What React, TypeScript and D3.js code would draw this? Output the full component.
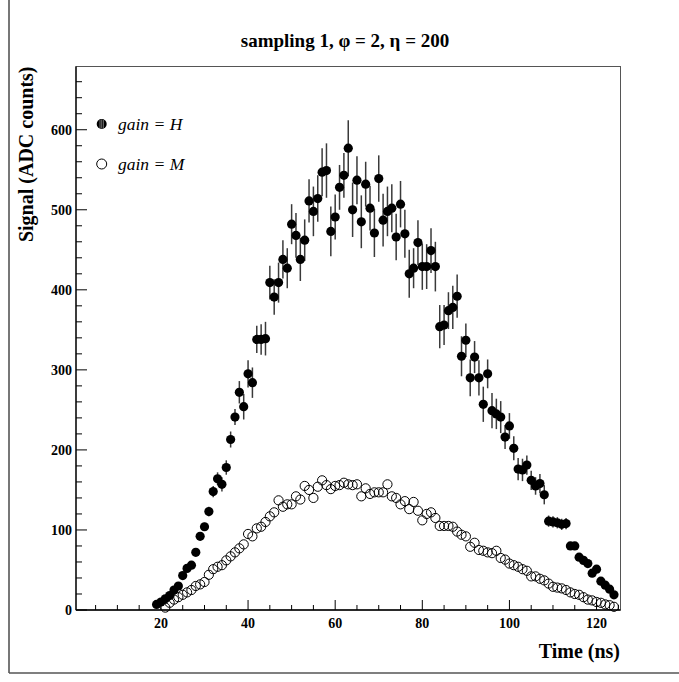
import React from 'react';
import * as d3 from 'd3';

// gain = H : first bin at 19 ns, one value per ns
const gainHStart = 19;
const gainHValues = [
  7, 10, 14, 18, 25, 30, 43, 52, 56, 72,
  92, 104, 123, 148, 164, 157, 178, 213, 241, 272,
  254, 295, 284, 338, 338, 339, 409, 391, 409, 438,
  427, 482, 468, 438, 462, 511, 498, 514, 547, 549,
  473, 491, 528, 543, 577, 500, 537, 485, 532, 502,
  471, 539, 487, 498, 502, 466, 507, 470, 420, 427,
  459, 429, 429, 449, 429, 354, 356, 374, 378, 392,
  317, 337, 290, 316, 290, 257, 295, 249, 245, 241,
  216, 230, 202, 176, 175, 181, 162, 155, 158, 144,
  111, 110, 109, 107, 108, 80, 80, 66, 62, 58,
  46, 51, 36, 31, 26, 19,
];
const gainHErrors = [
  3, 3, 3, 3, 3, 3, 4, 4, 4, 4,
  5, 5, 6, 7, 8, 9, 9, 10, 10, 14,
  16, 17, 19, 17, 19, 21, 21, 22, 25, 24,
  25, 25, 28, 27, 26, 27, 31, 29, 30, 34,
  31, 28, 28, 28, 35, 34, 30, 33, 28, 28,
  30, 29, 33, 31, 30, 29, 29, 30, 30, 25,
  28, 29, 28, 28, 31, 27, 25, 23, 27, 27,
  25, 21, 23, 20, 22, 22, 18, 22, 19, 20,
  15, 16, 15, 14, 14, 12, 12, 11, 12, 12,
  7, 7, 7, 7, 7, 5, 5, 4, 4, 4,
  4, 4, 4, 4, 4, 4,
];

// gain = M : first bin at 21 ns
const gainMStart = 21;
const gainMValues = [
  3, 9, 13, 16, 19, 22, 25, 30, 32, 35,
  44, 51, 54, 56, 62, 67, 72, 77, 82, 95,
  92, 102, 104, 110, 117, 122, 137, 129, 132, 132,
  142, 138, 155, 150, 140, 154, 162, 156, 151, 155,
  156, 159, 157, 156, 157, 142, 152, 145, 147, 147,
  147, 157, 142, 140, 132, 136, 126, 135, 124, 112,
  120, 122, 115, 105, 105, 105, 104, 98, 94, 92,
  79, 84, 75, 74, 72, 71, 74, 65, 63, 58,
  56, 54, 51, 49, 42, 42, 39, 37, 33, 29,
  28, 27, 25, 22, 20, 19, 16, 13, 12, 10,
  9, 7, 6, 4,
];

const xMajorTicks = [20, 40, 60, 80, 100, 120];
const xMinorTicks = [5, 10, 15, 25, 30, 35, 45, 50, 55, 65, 70, 75, 85, 90, 95, 105, 110, 115, 125];
const yMajorTicks = [0, 100, 200, 300, 400, 500, 600];
const yMinorTicks = [20, 40, 60, 80, 120, 140, 160, 180, 220, 240, 260, 280, 320, 340, 360, 380, 420, 440, 460, 480, 520, 540, 560, 580, 620, 640, 660];

const titleText = 'sampling 1, \u03C6 = 2, \u03B7 = 200';
const xTitle = 'Time (ns)';
const yTitle = 'Signal (ADC counts)';
const legendH = 'gain = H';
const legendM = 'gain = M';

const FONT = '"Liberation Serif", "Times New Roman", Times, serif';

export default function App() {
  const W = 679, H = 682;
  const left = 76, right = 620.5, top = 66.5, bottom = 610;
  const x = d3.scaleLinear().domain([0.5, 125.5]).range([left, right]);
  const y = d3.scaleLinear().domain([0, 679]).range([bottom, top]);
  const r = 4.6;

  const hPts = gainHValues.map((v, i) => ({ t: gainHStart + i, v, e: gainHErrors[i] }));
  const mPts = gainMValues.map((v, i) => ({ t: gainMStart + i, v }));

  return (
    <svg width={W} height={H} style={{ position: 'absolute', left: 0, top: 0 }}>
      <rect x={0} y={0} width={W} height={H} fill="#fff" />
      {/* outer canvas border */}
      <line x1={9} y1={0} x2={9} y2={673} stroke="#555" strokeWidth={1.6} />
      <line x1={9} y1={673} x2={W} y2={673} stroke="#555" strokeWidth={1.6} />

      {/* title */}
      <text x={345} y={47} textAnchor="middle" fontFamily={FONT} fontWeight="bold" fontSize={19}>
        {titleText}
      </text>

      {/* frame */}
      <rect x={left} y={top} width={right - left} height={bottom - top} fill="none" stroke="#555" strokeWidth={1} />
      <line x1={left} y1={bottom} x2={right} y2={bottom} stroke="#000" strokeWidth={1.3} />
      <line x1={left} y1={top} x2={left} y2={bottom} stroke="#000" strokeWidth={1.3} />

      {/* x ticks */}
      {xMajorTicks.map((t) => (
        <g key={'xm' + t}>
          <line x1={x(t)} x2={x(t)} y1={bottom} y2={bottom - 10} stroke="#000" strokeWidth={1} />
          <text x={x(t)} y={628} textAnchor="middle" fontFamily={FONT} fontWeight="bold" fontSize={14}>
            {t}
          </text>
        </g>
      ))}
      {xMinorTicks.map((t) => (
        <line key={'xn' + t} x1={x(t)} x2={x(t)} y1={bottom} y2={bottom - 5} stroke="#000" strokeWidth={1} />
      ))}

      {/* y ticks */}
      {yMajorTicks.map((v) => (
        <g key={'ym' + v}>
          <line x1={left} x2={left + 11} y1={y(v)} y2={y(v)} stroke="#000" strokeWidth={1} />
          <text x={72} y={y(v)} dy="0.35em" textAnchor="end" fontFamily={FONT} fontWeight="bold" fontSize={14}>
            {v}
          </text>
        </g>
      ))}
      {yMinorTicks.map((v) => (
        <line key={'yn' + v} x1={left} x2={left + 6} y1={y(v)} y2={y(v)} stroke="#000" strokeWidth={1} />
      ))}

      {/* axis titles */}
      <text x={620} y={658} textAnchor="end" fontFamily={FONT} fontWeight="bold" fontSize={20}>
        {xTitle}
      </text>
      <text
        transform={`translate(33, ${top}) rotate(-90)`}
        textAnchor="end"
        fontFamily={FONT}
        fontWeight="bold"
        fontSize={20}
      >
        {yTitle}
      </text>

      {/* gain M open circles */}
      {mPts.map((p) => (
        <circle key={'m' + p.t} cx={x(p.t)} cy={y(p.v)} r={r} fill="none" stroke="#000" strokeWidth={1} />
      ))}

      {/* gain H error bars and filled markers */}
      {hPts.map((p) => (
        <line
          key={'e' + p.t}
          x1={x(p.t)}
          x2={x(p.t)}
          y1={y(Math.max(0, p.v - p.e))}
          y2={y(p.v + p.e)}
          stroke="#3a3a3a"
          strokeWidth={1.5}
        />
      ))}
      {hPts.map((p) => (
        <circle key={'h' + p.t} cx={x(p.t)} cy={y(p.v)} r={r} fill="#000" />
      ))}

      {/* legend */}
      <g>
        <circle cx={101.7} cy={124} r={5} fill="#000" />
        <line x1={100} x2={100} y1={120} y2={128} stroke="#888" strokeWidth={0.8} />
        <line x1={101.7} x2={101.7} y1={119.5} y2={128.5} stroke="#888" strokeWidth={0.8} />
        <line x1={103.4} x2={103.4} y1={120} y2={128} stroke="#888" strokeWidth={0.8} />
        <text x={118} y={130} fontFamily={FONT} fontStyle="italic" fontSize={17.5}>
          {legendH}
        </text>
        <circle cx={101.7} cy={164} r={5} fill="none" stroke="#000" strokeWidth={1} />
        <text x={118} y={170} fontFamily={FONT} fontStyle="italic" fontSize={17.5}>
          {legendM}
        </text>
      </g>
    </svg>
  );
}
